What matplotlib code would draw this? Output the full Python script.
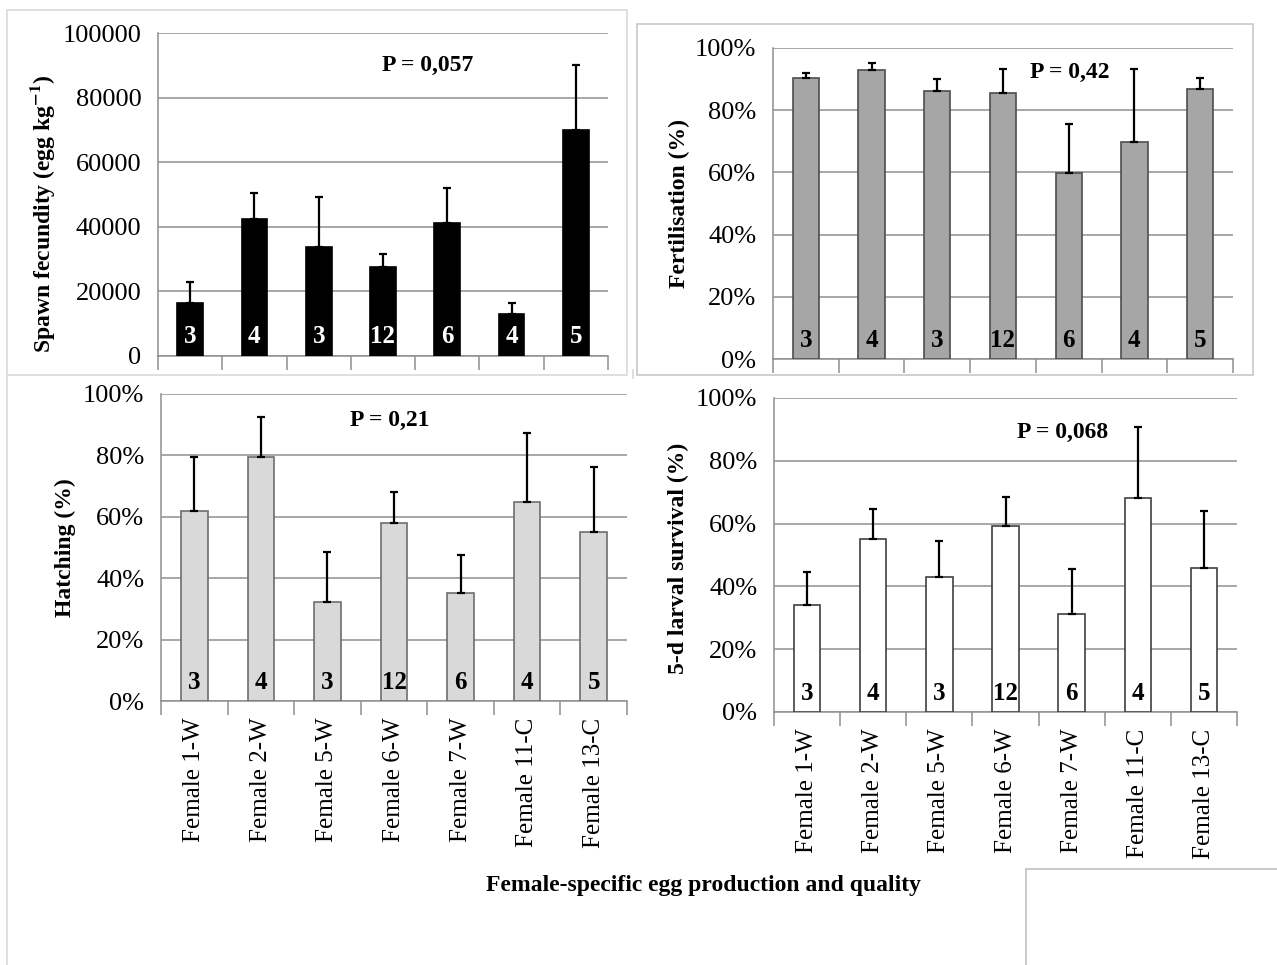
import matplotlib
matplotlib.use("Agg")
import matplotlib.pyplot as plt
from matplotlib.patches import Rectangle
from matplotlib.lines import Line2D
from matplotlib.ticker import PercentFormatter, FixedLocator
import numpy as np

plt.rcParams['font.family'] = ['Liberation Serif', 'DejaVu Serif']
plt.rcParams['mathtext.fontset'] = 'stix'

females = ["Female 1-W", "Female 2-W", "Female 5-W", "Female 6-W",
           "Female 7-W", "Female 11-C", "Female 13-C"]
n_spawns = [3, 4, 3, 12, 6, 4, 5]

fecundity = [16500, 42400, 33900, 27500, 41300, 13000, 70000]
fecundity_se = [6500, 8200, 15300, 4000, 10600, 3300, 20200]

fertilisation = [90.5, 93.0, 86.3, 85.5, 59.9, 69.7, 86.9]
fertilisation_se = [1.6, 2.1, 3.7, 7.9, 15.7, 23.4, 3.6]

hatching = [61.8, 79.6, 32.2, 57.9, 35.1, 64.8, 54.9]
hatching_se = [17.8, 12.8, 16.4, 10.1, 12.6, 22.4, 21.3]

survival = [34.1, 55.1, 43.0, 59.1, 31.2, 68.1, 46.0]
survival_se = [10.5, 9.6, 11.5, 9.4, 14.5, 22.8, 18.0]

p_values = ["P = 0,057", "P = 0,42", "P = 0,21", "P = 0,068"]

W, H = 1277, 965
fig = plt.figure(figsize=(W / 100, H / 100), dpi=100)


def px_box(x0, y0, x1, y1):
    return [x0 / W, 1 - y1 / H, (x1 - x0) / W, (y1 - y0) / H]


def frame(x0, y0, x1, y1, color="#d9d9d9"):
    r = Rectangle((x0 / W, 1 - y1 / H), (x1 - x0) / W, (y1 - y0) / H,
                  transform=fig.transFigure, fill=False, edgecolor=color, lw=1.2)
    fig.patches.append(r)


def vline(x, y0, y1, color="#d9d9d9"):
    fig.lines.append(Line2D([x / W, x / W], [1 - y0 / H, 1 - y1 / H],
                            transform=fig.transFigure, color=color, lw=1.2))


# background frames of the separate chart objects
frame(7, 10, 627, 375)
frame(637, 24, 1253, 375, "#c8c8c8")
vline(7, 377, 965)
vline(633, 370, 378)
frame(1026, 869, 1300, 990, "#bfbfbf")

GRID = "#8f8f8f"


def bar_panel(rect, values, errs, ymax, face, edge, n_color, ylabel, label_xy,
              ptext, pxy, percent, show_xlabels):
    ax = fig.add_axes(rect)
    x = np.arange(len(values))
    ax.bar(x, values, width=0.4, color=face, edgecolor=edge, linewidth=1.2, zorder=3)
    ax.errorbar(x, values, yerr=[np.zeros(len(errs)), errs], fmt="none",
                ecolor="black", elinewidth=1.6, capsize=3, capthick=1.6, zorder=4)
    ax.set_xlim(-0.5, len(values) - 0.5)
    ax.set_ylim(0, ymax)
    ax.set_yticks(np.linspace(0, ymax, 6))
    if percent:
        ax.yaxis.set_major_formatter(PercentFormatter(100, decimals=0))
    ax.yaxis.grid(True, color=GRID, lw=1.1, zorder=0)
    for s in ["top", "right"]:
        ax.spines[s].set_visible(False)
    for s in ["left", "bottom"]:
        ax.spines[s].set_color(GRID)
        ax.spines[s].set_linewidth(1.1)
    ax.tick_params(axis="y", length=0, pad=12, labelsize=19)
    ax.set_xticks(x)
    ax.xaxis.set_minor_locator(FixedLocator(np.arange(-0.5, len(values), 1)))
    ax.tick_params(axis="x", which="minor", length=10, color=GRID, width=1.1)
    ax.tick_params(axis="x", which="major", length=0, pad=12)
    if show_xlabels:
        ax.set_xticklabels(females, rotation=90, fontsize=18, va="top")
    else:
        ax.set_xticklabels([])
    for xi, n in zip(x, n_spawns):
        ax.text(xi, ymax * 0.06, str(n), ha="center", va="center",
                fontsize=18, fontweight="bold", color=n_color, zorder=5)
    ax.set_ylabel(ylabel, fontsize=17, fontweight="bold")
    ax.yaxis.set_label_coords(*label_xy)
    ax.text(pxy[0], pxy[1], ptext, transform=ax.transAxes, ha="center",
            va="center", fontsize=17, fontweight="bold")
    return ax


bar_panel(px_box(158, 33, 608, 356), fecundity, fecundity_se, 100000,
          "black", "black", "white",
          "Spawn fecundity (egg kg$^{\\mathbf{-1}}$)", (-0.224, 0.44),
          p_values[0], (0.60, 0.898), False, False)

bar_panel(px_box(773, 48, 1233, 359), fertilisation, fertilisation_se, 100,
          "#a6a6a6", "#4d4d4d", "black",
          "Fertilisation (%)", (-0.18, 0.50),
          p_values[1], (0.646, 0.92), True, False)

bar_panel(px_box(161, 394, 627, 701), hatching, hatching_se, 100,
          "#d9d9d9", "#6e6e6e", "black",
          "Hatching (%)", (-0.183, 0.50),
          p_values[2], (0.49, 0.915), True, True)

bar_panel(px_box(774, 398, 1237, 712), survival, survival_se, 100,
          "white", "#404040", "black",
          "5-d larval survival (%)", (-0.184, 0.49),
          p_values[3], (0.624, 0.89), True, True)

fig.text(703 / W, 1 - 886 / H, "Female-specific egg production and quality",
         ha="center", va="center", fontsize=17, fontweight="bold")

fig.savefig("out.png", dpi=100)
